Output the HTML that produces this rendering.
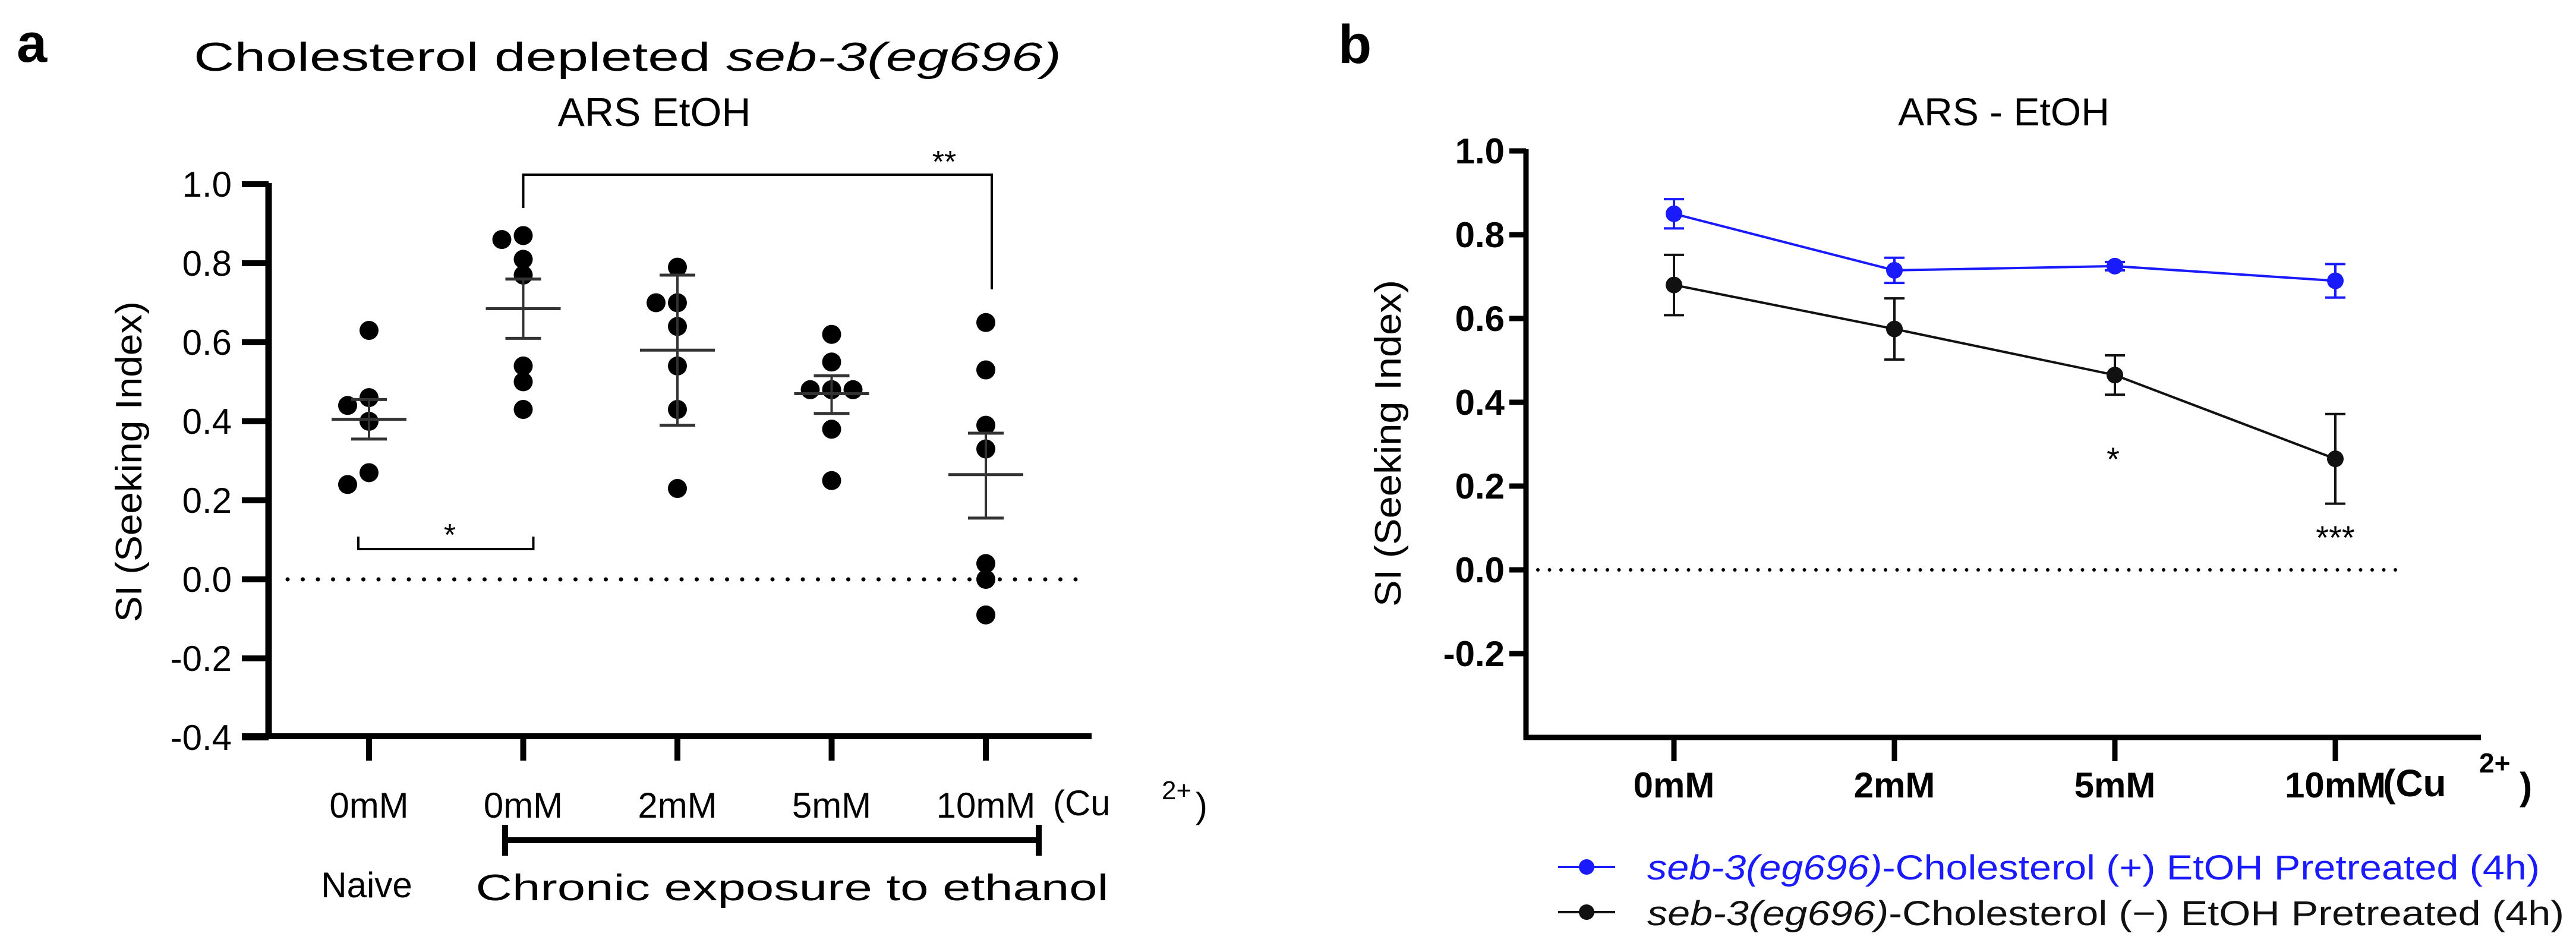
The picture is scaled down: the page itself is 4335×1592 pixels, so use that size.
<!DOCTYPE html>
<html><head><meta charset="utf-8"><style>
html,body{margin:0;padding:0;background:#fff}
svg{display:block}
text{font-family:"Liberation Sans",Arial,sans-serif}
</style></head><body>
<svg id="fig" xmlns="http://www.w3.org/2000/svg" width="4335" height="1592" viewBox="0 0 4335 1592">
<rect width="4335" height="1592" fill="#fff"/>
<g id="pa"></g>
<g id="pb"></g>
</svg>
<script>
// ---------- Panel A data ----------
const aCategories = ["0mM","0mM","2mM","5mM","10mM"];
const aGroup0 = [0.63,0.46,0.44,0.40,0.27,0.24];
const aGroup1 = [0.87,0.86,0.81,0.77,0.54,0.50,0.43];
const aGroup2 = [0.79,0.70,0.70,0.64,0.54,0.43,0.23];
const aGroup3 = [0.62,0.55,0.48,0.48,0.48,0.38,0.25];
const aGroup4 = [0.65,0.53,0.39,0.33,0.04,0.00,-0.09];
const aMeans = [0.405,0.685,0.58,0.47,0.265];
const aErrHi = [0.455,0.76,0.77,0.515,0.37];
const aErrLo = [0.355,0.61,0.39,0.42,0.155];
const aTicks = [1.0,0.8,0.6,0.4,0.2,0.0,-0.2,-0.4];
const aTickLabels = ["1.0","0.8","0.6","0.4","0.2","0.0","-0.2","-0.4"];
// ---------- Panel B data ----------
const bCategories = ["0mM","2mM","5mM","10mM"];
const bBlue = [0.85,0.715,0.725,0.69];
const bBlueErr = [0.035,0.03,0.01,0.04];
const bBlack = [0.68,0.575,0.465,0.265];
const bBlackErr = [0.072,0.073,0.047,0.107];
const bTicks = [1.0,0.8,0.6,0.4,0.2,0.0,-0.2];
const bTickLabels = ["1.0","0.8","0.6","0.4","0.2","0.0","-0.2"];

const NS="http://www.w3.org/2000/svg";
function mk(parent,tag,attrs,txt){const e=document.createElementNS(NS,tag);for(const k in attrs)e.setAttribute(k,attrs[k]);if(txt!==undefined)e.textContent=txt;parent.appendChild(e);return e;}

// ===== Panel A =====
const pa=document.getElementById('pa');
const ay=v=>975-v*665;
const ax=i=>621+i*259.5;
let t;
t=mk(pa,'text',{x:28,y:104,'font-size':92,'font-weight':'bold'},'a');


t=mk(pa,'text',{x:1056,y:119,'font-size':68,'text-anchor':'middle',textLength:1460,lengthAdjust:'spacingAndGlyphs'});


t.innerHTML='Cholesterol depleted <tspan font-style="italic">seb-3(eg696)</tspan>';
t=mk(pa,'text',{x:1101,y:212,'font-size':68,'text-anchor':'middle'},'ARS EtOH');


t=mk(pa,'text',{x:0,y:0,'font-size':62,'text-anchor':'middle',transform:'translate(238,777) rotate(-90)',textLength:540,lengthAdjust:'spacingAndGlyphs'},'SI (Seeking Index)');


t=mk(pa,'line',{x1:452,y1:ay(1.0)-2,x2:452,y2:1241,stroke:'#000','stroke-width':11});


t=mk(pa,'line',{x1:407,y1:1239,x2:1837,y2:1239,stroke:'#000','stroke-width':10});


aTicks.forEach((v,i)=>{
  const l=mk(pa,'line',{x1:407,y1:ay(v),x2:452,y2:ay(v),stroke:'#000','stroke-width':10});
  
  
  const tx=mk(pa,'text',{x:390,y:ay(v)+21,'font-size':60,'text-anchor':'end'},aTickLabels[i]);
  
  
});
aCategories.forEach((c,i)=>{
  const l=mk(pa,'line',{x1:ax(i),y1:1239,x2:ax(i),y2:1280,stroke:'#000','stroke-width':10});
  
  
  const tx=mk(pa,'text',{x:ax(i),y:1376,'font-size':60,'text-anchor':'middle'},c);
  
  
});
t=mk(pa,'text',{x:1772,y:1372,'font-size':60},'(Cu');


t=mk(pa,'text',{x:1955,y:1345,'font-size':44},'2+');


t=mk(pa,'text',{x:2012,y:1376,'font-size':60},')');


t=mk(pa,'line',{x1:484,y1:ay(0),x2:1830,y2:ay(0),stroke:'#000','stroke-width':7,'stroke-dasharray':'0 25.5','stroke-linecap':'round'});


const aGroups=[aGroup0,aGroup1,aGroup2,aGroup3,aGroup4];
aGroups.forEach((g,gi)=>{
  const placed=[];
  g.forEach(v=>{
    const near=placed.filter(p=>Math.abs(p.v-v)<0.035);
    let side=0;
    if(near.length){
      const used=near.map(p=>p.s);
      side=used.indexOf(-1)<0?-1:(used.indexOf(1)<0?1:(used.indexOf(0)<0?0:-1));
    }
    placed.push({v:v,s:side});
    const d=mk(pa,'circle',{cx:ax(gi)+side*36,cy:ay(v),r:16,fill:'#000'});
    
    
  });
  const m=mk(pa,'line',{x1:ax(gi)-63,y1:ay(aMeans[gi]),x2:ax(gi)+63,y2:ay(aMeans[gi]),stroke:'#333','stroke-width':5});
  
  
  const e=mk(pa,'line',{x1:ax(gi),y1:ay(aErrHi[gi]),x2:ax(gi),y2:ay(aErrLo[gi]),stroke:'#333','stroke-width':4});
  
  
  [aErrHi[gi],aErrLo[gi]].forEach(v=>{
    const c=mk(pa,'line',{x1:ax(gi)-30,y1:ay(v),x2:ax(gi)+30,y2:ay(v),stroke:'#333','stroke-width':5});
    
    
  });
});
t=mk(pa,'path',{d:`M${ax(0)-18},903 V924 H${ax(1)+17} V903`,fill:'none',stroke:'#000','stroke-width':4});


t=mk(pa,'text',{x:757,y:918,'font-size':52,'text-anchor':'middle'},'*');


t=mk(pa,'path',{d:`M${ax(1)},350 V294 H${ax(4)+10} V487`,fill:'none',stroke:'#000','stroke-width':4});


t=mk(pa,'text',{x:1589,y:290,'font-size':52,'text-anchor':'middle'},'**');


t=mk(pa,'path',{d:'M850,1388 V1440 M850,1414 H1748 M1748,1388 V1440',fill:'none',stroke:'#000','stroke-width':10});


t=mk(pa,'text',{x:617,y:1510,'font-size':60,'text-anchor':'middle'},'Naive');


t=mk(pa,'text',{x:1333,y:1515,'font-size':62,'text-anchor':'middle',textLength:1065,lengthAdjust:'spacingAndGlyphs'},'Chronic exposure to ethanol');



// ===== Panel B =====
const pb=document.getElementById('pb');
const by=v=>959-v*705;
const bx=i=>2817+i*371;
t=mk(pb,'text',{x:2252,y:106,'font-size':92,'font-weight':'bold'},'b');


t=mk(pb,'text',{x:3372,y:211,'font-size':66,'text-anchor':'middle'},'ARS - EtOH');


t=mk(pb,'text',{x:0,y:0,'font-size':62,'text-anchor':'middle',transform:'translate(2357,746) rotate(-90)',textLength:550,lengthAdjust:'spacingAndGlyphs'},'SI (Seeking Index)');


t=mk(pb,'line',{x1:2568,y1:by(1.0)-3,x2:2568,y2:1245,stroke:'#000','stroke-width':9});


t=mk(pb,'line',{x1:2564,y1:1241,x2:4175,y2:1241,stroke:'#000','stroke-width':9});


bTicks.forEach((v,i)=>{
  const l=mk(pb,'line',{x1:2540,y1:by(v),x2:2568,y2:by(v),stroke:'#000','stroke-width':9});
  
  
  const tx=mk(pb,'text',{x:2532,y:by(v)+21,'font-size':60,'font-weight':'bold','text-anchor':'end'},bTickLabels[i]);
  
  
});
bCategories.forEach((c,i)=>{
  const l=mk(pb,'line',{x1:bx(i),y1:1241,x2:bx(i),y2:1281,stroke:'#000','stroke-width':9});
  
  
  const tx=mk(pb,'text',{x:bx(i),y:1342,'font-size':60,'font-weight':'bold','text-anchor':'middle'},c);
  
  
});
t=mk(pb,'text',{x:4010,y:1340,'font-size':64,'font-weight':'bold'},'(Cu');


t=mk(pb,'text',{x:4172,y:1300,'font-size':46,'font-weight':'bold'},'2+');


t=mk(pb,'text',{x:4240,y:1345,'font-size':64,'font-weight':'bold'},')');


t=mk(pb,'line',{x1:2588,y1:by(0),x2:4046,y2:by(0),stroke:'#000','stroke-width':6,'stroke-dasharray':'0 19.5','stroke-linecap':'round'});


function series(vals,errs,color,name){
  const pts=vals.map((v,i)=>bx(i)+','+by(v)).join(' ');
  const pl=mk(pb,'polyline',{points:pts,fill:'none',stroke:color,'stroke-width':4});
  
  
  vals.forEach((v,i)=>{
    const e=mk(pb,'path',{d:`M${bx(i)},${by(v+errs[i])} V${by(v-errs[i])} M${bx(i)-17},${by(v+errs[i])} H${bx(i)+17} M${bx(i)-17},${by(v-errs[i])} H${bx(i)+17}`,fill:'none',stroke:color,'stroke-width':4});
    
    
    const c=mk(pb,'circle',{cx:bx(i),cy:by(v),r:14,fill:color});
    
    
  });
}
series(bBlack,bBlackErr,'#111','cholesterol-minus');
series(bBlue,bBlueErr,'#1a1aff','cholesterol-plus');
t=mk(pb,'text',{x:3556,y:792,'font-size':56,'text-anchor':'middle'},'*');


t=mk(pb,'text',{x:3930,y:924,'font-size':56,'text-anchor':'middle'},'***');


const lg=mk(pb,'g',{});


const le1=mk(lg,'g',{});


mk(le1,'line',{x1:2622,y1:1459,x2:2718,y2:1459,stroke:'#1a1aff','stroke-width':4});
mk(le1,'circle',{cx:2670,cy:1459,r:13,fill:'#1a1aff'});
t=mk(le1,'text',{x:2772,y:1480,'font-size':58,fill:'#1a1aff',textLength:1502,lengthAdjust:'spacingAndGlyphs'});
t.innerHTML='<tspan font-style="italic">seb-3(eg696)</tspan>-Cholesterol (+) EtOH Pretreated (4h)';
const le2=mk(lg,'g',{});


mk(le2,'line',{x1:2622,y1:1535,x2:2718,y2:1535,stroke:'#111','stroke-width':4});
mk(le2,'circle',{cx:2670,cy:1535,r:13,fill:'#111'});
t=mk(le2,'text',{x:2772,y:1557,'font-size':58,fill:'#111',textLength:1543,lengthAdjust:'spacingAndGlyphs'});
t.innerHTML='<tspan font-style="italic">seb-3(eg696)</tspan>-Cholesterol (\u2212) EtOH Pretreated (4h)';
</script>
</body></html>
